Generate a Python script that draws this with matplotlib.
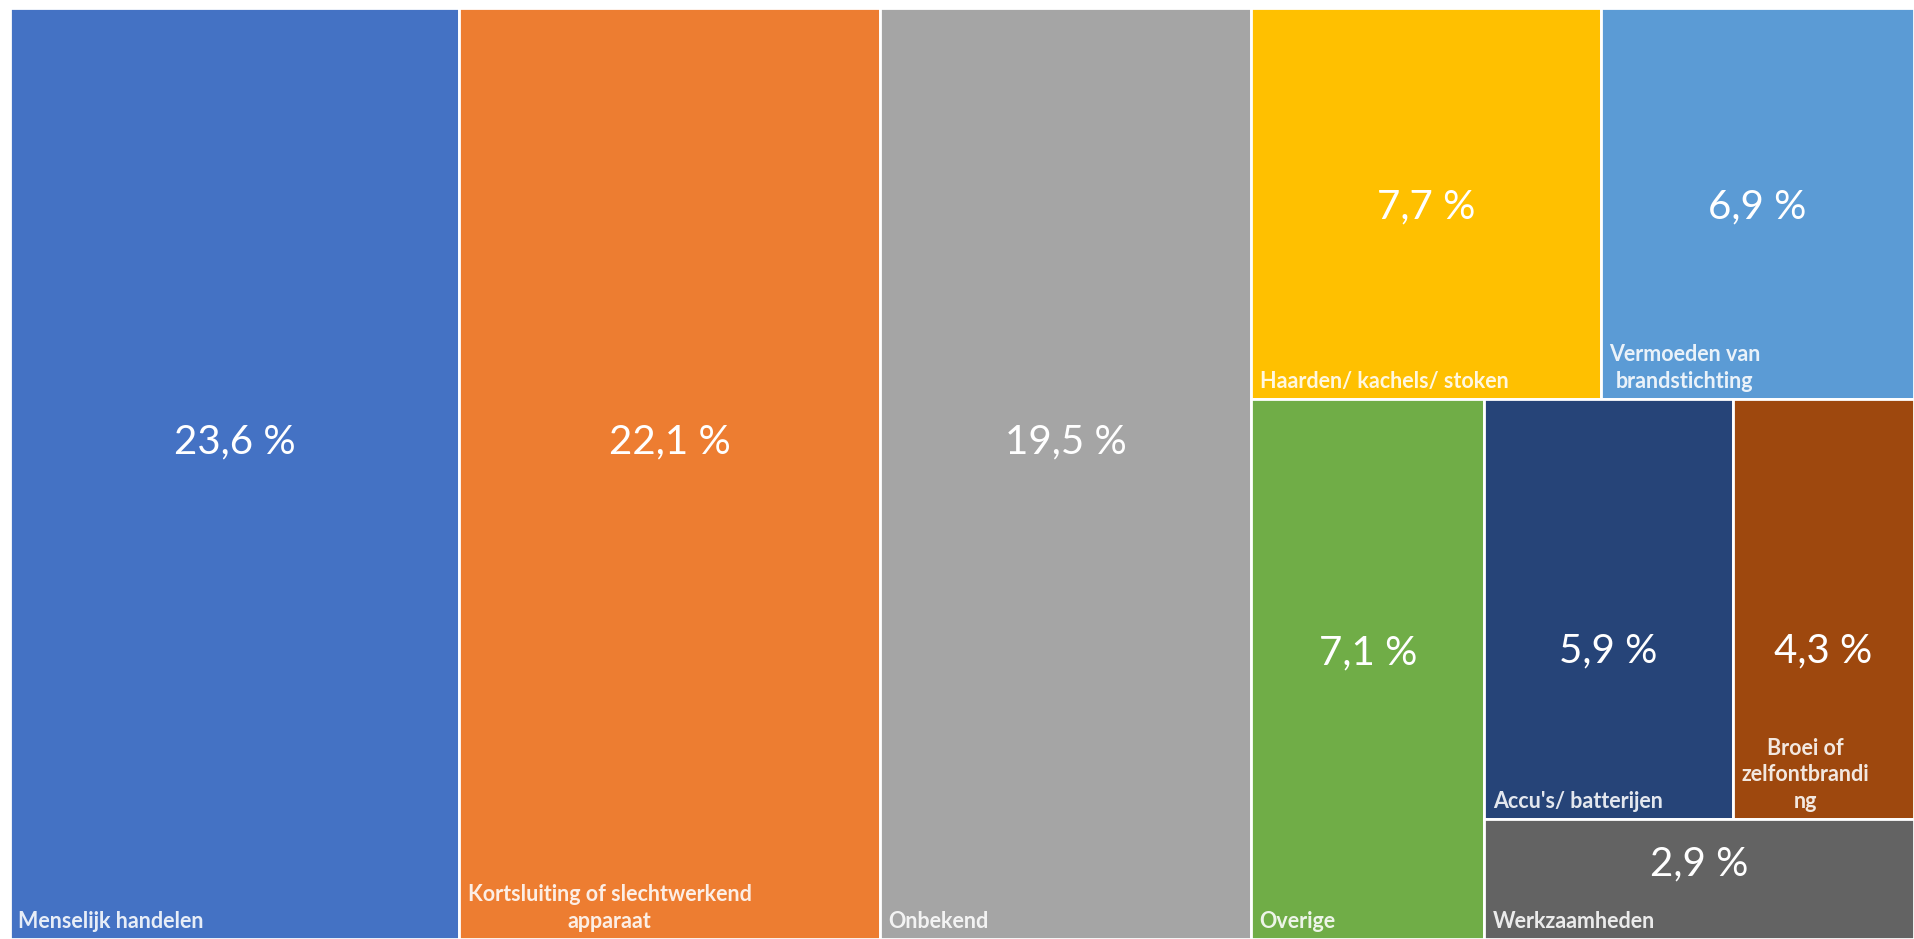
import matplotlib
matplotlib.use('Agg')
import matplotlib.pyplot as plt
from matplotlib.patches import Rectangle

# oorzaken van woningbranden (treemap)
names = ['Menselijk handelen', 'Kortsluiting of slechtwerkend\napparaat', 'Onbekend',
         'Haarden/ kachels/ stoken', 'Vermoeden van\nbrandstichting', 'Overige',
         "Accu's/ batterijen", 'Broei of\nzelfontbrandi\nng', 'Werkzaamheden']
values = [23.6, 22.1, 19.5, 7.7, 6.9, 7.1, 5.9, 4.3, 2.9]
value_labels = ['23,6 %', '22,1 %', '19,5 %', '7,7 %', '6,9 %', '7,1 %', '5,9 %', '4,3 %', '2,9 %']

colors = ['#4472C4', '#ED7D31', '#A5A5A5', '#FFC000', '#5B9BD5',
          '#70AD47', '#264478', '#9E480E', '#636363']
# vertical spot of the value label inside each tile (fraction from top)
value_yfrac = [0.466, 0.466, 0.466, 0.51, 0.51, 0.47, 0.60, 0.60, 0.37]

# nesting of the tiles: 'h' = side by side, 'v' = stacked
layout = ('h', [0, 1, 2,
                ('v', [('h', [3, 4]),
                       ('h', [5, ('v', [('h', [6, 7]), 8])])])])


def total(node):
  if isinstance(node, int):
    return values[node]
  return sum(total(n) for n in node[1])


def place(node, x, y, w, h, out):
  if isinstance(node, int):
    out[node] = (x, y, w, h)
    return
  direction, children = node
  tot = total(node)
  for ch in children:
    f = total(ch) / tot
    if direction == 'h':
      place(ch, x, y, w * f, h, out)
      x += w * f
    else:
      place(ch, x, y, w, h * f, out)
      y += h * f


rects = {}
place(layout, 0.0, 0.0, 1.0, 1.0, rects)

fig = plt.figure(figsize=(19.14, 9.39), dpi=100)
ax = fig.add_axes([10 / 1914, 0, 1 - 10 / 1914, 1 - 8 / 939])
ax.set_xlim(0, 1)
ax.set_ylim(1, 0)
ax.axis('off')

for i, (x, y, w, h) in rects.items():
  ax.add_patch(Rectangle((x, y), w, h, facecolor=colors[i], edgecolor='white', linewidth=2))
  ax.text(x + w / 2, y + h * value_yfrac[i], value_labels[i], color='white',
          fontsize=29, family='Lato', ha='center', va='center')
  ax.annotate(names[i], xy=(x, y + h), xytext=(6, 5), textcoords='offset points',
              color='white', alpha=0.88, fontsize=15.5, family='Lato', fontweight='bold',
              ha='left', va='bottom', multialignment='center', linespacing=1.35)

fig.savefig('out.png', dpi=100, facecolor='white')
